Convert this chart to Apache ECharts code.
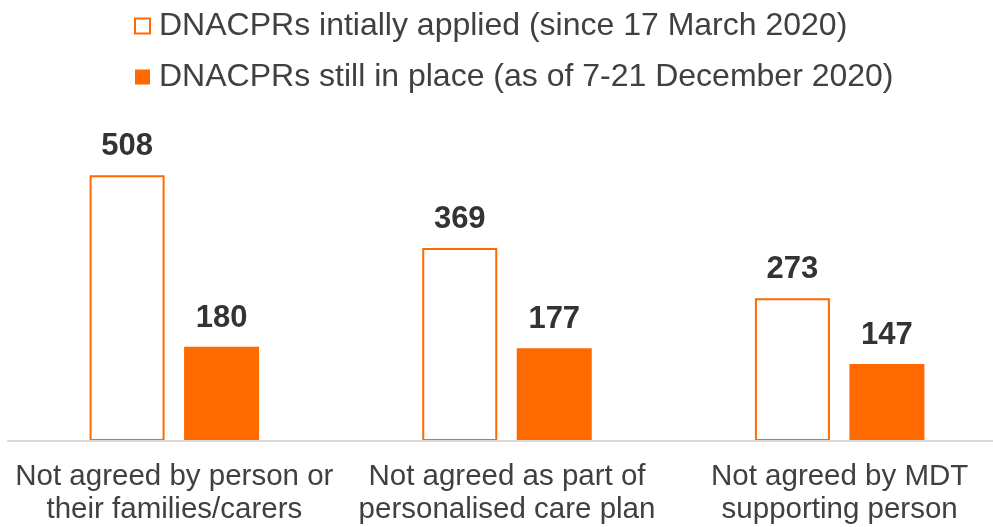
<!DOCTYPE html>
<html>
<head>
<meta charset="utf-8">
<script src="https://cdn.jsdelivr.net/npm/echarts@6/dist/echarts.min.js"></script>
<style>
  html, body { margin: 0; padding: 0; background: #fff; }
  #chart { width: 993px; height: 527px; }
</style>
</head>
<body>
<div id="chart"></div>
<script>
var categories = [
    'Not agreed by person or\ntheir families/carers',
    'Not agreed as part of\npersonalised care plan',
    'Not agreed by MDT\nsupporting person'
];
var initiallyApplied = [508, 369, 273];
var stillInPlace = [180, 177, 147];
var seriesNames = [
    'DNACPRs intially applied (since 17 March 2020)',
    'DNACPRs still in place (as of 7-21 December 2020)'
];

var orange = '#ff6a00';
var textColor = '#404040';
var font = "'Liberation Sans', Arial, sans-serif";

var myChart = echarts.init(document.getElementById('chart'));

var valueLabel = {
    show: true,
    position: 'top',
    distance: 13,
    fontFamily: font,
    fontSize: 31,
    fontWeight: 'bold',
    lineHeight: 31,
    color: '#333'
};

var option = {
    backgroundColor: '#fff',
    animation: false,
    legend: {
        orient: 'vertical',
        left: 134,
        top: 10,
        padding: 0,
        itemWidth: 15,
        itemHeight: 15,
        itemGap: 19,
        icon: 'rect',
        textStyle: {
            fontFamily: font,
            fontSize: 32,
            lineHeight: 32,
            color: textColor,
            padding: [0, 0, 0, 4]
        },
        data: seriesNames
    },
    grid: {
        left: 8,
        top: 127,
        width: 998,
        bottom: 86,
        outerBoundsMode: 'none'
    },
    xAxis: {
        type: 'category',
        data: categories,
        z: 5,
        axisLine: { lineStyle: { color: '#d9d9d9', width: 2 } },
        axisTick: { show: false },
        axisLabel: {
            margin: 19,
            fontFamily: font,
            fontSize: 29.5,
            lineHeight: 33,
            color: textColor,
            interval: 0
        }
    },
    yAxis: {
        type: 'value',
        min: 0,
        max: 600,
        show: false
    },
    series: [
        {
            name: seriesNames[0],
            type: 'bar',
            data: initiallyApplied,
            barWidth: 75,
            barGap: '26%',
            itemStyle: {
                color: '#fff',
                borderColor: orange,
                borderWidth: 2
            },
            label: valueLabel
        },
        {
            name: seriesNames[1],
            type: 'bar',
            data: stillInPlace,
            barWidth: 75,
            barGap: '26%',
            itemStyle: { color: orange },
            label: valueLabel
        }
    ]
};

myChart.setOption(option);
</script>
</body>
</html>
